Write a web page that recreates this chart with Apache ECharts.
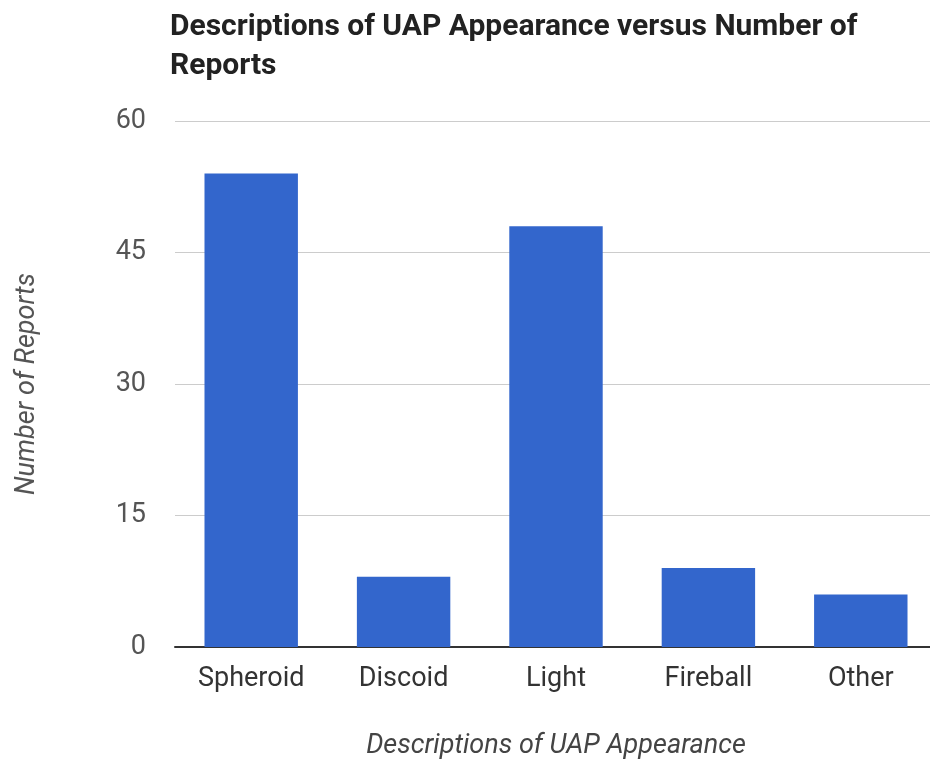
<!DOCTYPE html>
<html>
<head>
<meta charset="utf-8">
<script src="https://cdn.jsdelivr.net/npm/echarts@6/dist/echarts.min.js"></script>
<style>
html,body{margin:0;padding:0;background:#fff;}
#chart{width:930px;height:767px;}
</style>
</head>
<body>
<div id="chart"></div>
<script>
const categories = ['Spheroid', 'Discoid', 'Light', 'Fireball', 'Other'];
const reports = [54, 8, 48, 9, 6];
const yTicks = [0, 15, 30, 45, 60];
const titleText = 'Descriptions of UAP Appearance versus Number of\nReports';
const xAxisName = 'Descriptions of UAP Appearance';
const yAxisName = 'Number of Reports';

const chart = echarts.init(document.getElementById('chart'), null, {renderer: 'canvas'});
chart.setOption({
  animation: false,
  backgroundColor: '#ffffff',
  title: {
    text: titleText,
    left: 165,
    top: 3,
    textStyle: {fontFamily: 'Roboto', fontWeight: 'bold', fontSize: 30, color: '#222', lineHeight: 39}
  },
  grid: {left: 175, right: -7, top: 121, bottom: 120, containLabel: false, outerBoundsMode: 'none'},
  xAxis: {
    type: 'category',
    data: categories,
    name: xAxisName,
    nameLocation: 'middle',
    nameGap: 86,
    nameTextStyle: {fontFamily: 'Roboto', fontStyle: 'italic', fontSize: 27, color: '#444'},
    axisLine: {lineStyle: {color: '#333', width: 2}},
    axisTick: {show: false},
    axisLabel: {fontFamily: 'Roboto', fontSize: 27, color: '#333', margin: 19}
  },
  yAxis: {
    type: 'value',
    min: yTicks[0],
    max: yTicks[yTicks.length - 1],
    interval: 15,
    name: yAxisName,
    nameLocation: 'middle',
    nameRotate: 90,
    nameGap: 134,
    nameTextStyle: {fontFamily: 'Roboto', fontStyle: 'italic', fontSize: 27, color: '#555'},
    axisLine: {show: false},
    axisTick: {show: false},
    axisLabel: {fontFamily: 'Roboto', fontSize: 27, color: '#555', margin: 29},
    splitLine: {lineStyle: {color: '#cccccc', width: 1}}
  },
  series: [{
    type: 'bar',
    data: reports,
    barWidth: '61.3%',
    itemStyle: {color: '#3366cc'}
  }]
});
</script>
</body>
</html>
